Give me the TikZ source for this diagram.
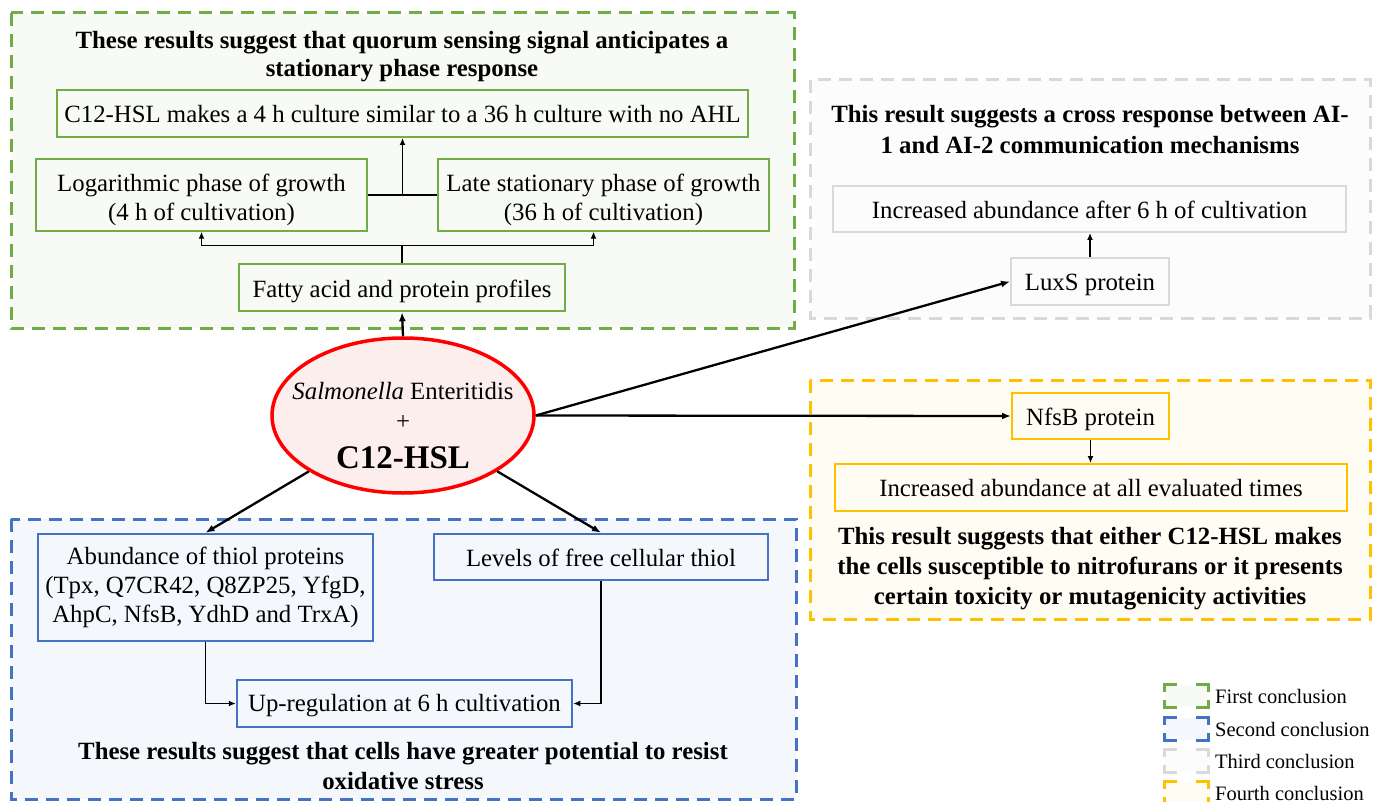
\documentclass[tikz,border=0pt]{standalone}
\usepackage{fontspec}
\setmainfont{Liberation Serif}
\usetikzlibrary{shapes.geometric,arrows.meta,calc}
\definecolor{grn}{HTML}{70AD47}
\definecolor{grnfill}{HTML}{F8FAF5}
\definecolor{blu}{HTML}{4472C4}
\definecolor{blufill}{HTML}{F4F7FC}
\definecolor{gry}{HTML}{D9D9D9}
\definecolor{gryfill}{HTML}{FCFCFC}
\definecolor{yel}{HTML}{FFC000}
\definecolor{yelfill}{HTML}{FFFDF3}
\definecolor{redl}{HTML}{FF0000}
\definecolor{pinkfill}{HTML}{FDEEEE}
\newcommand{\lowertxt}[2][2.5pt]{\raisebox{-#1}[\height][\depth]{#2}}
\begin{document}
\begin{tikzpicture}[x=1pt,y=-1pt,
 txt/.style={font=\fontsize{24.8}{29}\selectfont, align=center, inner sep=0pt},
 ttl/.style={font=\bfseries\fontsize{24.8}{29}\selectfont, align=center, inner sep=0pt},
 region/.style={line width=3pt, dash pattern=on 13pt off 8pt},
 ibox/.style={txt, draw, line width=2pt},
 thin/.style={line width=1.3pt, -{Latex[length=7pt,width=6pt]}},
 thick/.style={line width=2.3pt, -{Latex[length=9pt,width=7pt]}},
 legbox/.style={minimum width=43pt, minimum height=22pt, inner sep=0pt},
 legtxt/.style={font=\fontsize{20.5}{23}\selectfont, anchor=base west, inner sep=0pt},
 bracket/.style={line width=3pt},
]
\useasboundingbox[fill=white] (0,0) rectangle (1383,802);
% regions
\path[region, draw=grn, fill=grnfill] (11,13) rectangle (794,328);
\path[region, draw=gry, fill=gryfill] (810,80) rectangle (1370,318);
\path[region, draw=yel, fill=yelfill] (810,380) rectangle (1370,619);
\path[region, draw=blu, fill=blufill] (11,519) rectangle (796,799);

% first conclusion
\node[ttl, font=\bfseries\fontsize{24.8}{28}\selectfont] (t1) at (402,57) {These results suggest that quorum sensing signal anticipates a\\stationary phase response};
\node[ibox, draw=grn, minimum width=691pt, minimum height=47pt] (c12) at (402.5,113.5) {\lowertxt[1pt]{C12-HSL makes a 4 h culture similar to a 36 h culture with no AHL}};
\node[ibox, draw=grn, line width=1.5pt, minimum width=331pt, minimum height=72pt] (log) at (201.5,195) {\lowertxt[4.5pt]{Logarithmic phase of growth}\\\lowertxt[4.5pt]{(4 h of cultivation)}};
\node[ibox, draw=grn, line width=1.5pt, minimum width=331pt, minimum height=72pt] (late) at (603.5,195) {\lowertxt[4.5pt]{Late stationary phase of growth}\\\lowertxt[4.5pt]{(36 h of cultivation)}};
\node[ibox, draw=grn, line width=2.5pt, minimum width=326pt, minimum height=47pt] (fatty) at (402,287.5) {\lowertxt[4pt]{Fatty acid and protein profiles}};

% central ellipse
\node[ellipse, draw=redl, line width=3.5pt, fill=pinkfill, minimum width=262pt, minimum height=155pt, inner sep=0pt] (e) at (403,415.5) {};
\node[txt, anchor=base] (e1) at (403,399) {\textit{Salmonella} Enteritidis};
\node[txt, anchor=base] (e2) at (403,429) {+};
\node[font=\bfseries\fontsize{33}{36}\selectfont, anchor=base, inner sep=0pt] (e3) at (403,468) {C12-HSL};

% third conclusion
\node[ttl, font=\bfseries\fontsize{24.8}{31}\selectfont] (t3) at (1090,130) {This result suggests a cross response between AI-\\1 and AI-2 communication mechanisms};
\node[ibox, draw=gry, minimum width=513pt, minimum height=46pt] (inc6) at (1089.5,209) {\lowertxt[1pt]{Increased abundance after 6 h of cultivation}};
\node[ibox, draw=gry, minimum width=158pt, minimum height=47pt] (luxs) at (1090,281.5) {\lowertxt[3pt]{LuxS protein}};

% fourth conclusion
\node[ibox, draw=yel, minimum width=157pt, minimum height=46pt] (nfsb) at (1090.5,416) {\lowertxt[3pt]{NfsB protein}};
\node[ibox, draw=yel, minimum width=512pt, minimum height=47pt] (incall) at (1091,487.5) {\lowertxt[1pt]{Increased abundance at all evaluated times}};
\node[ttl, font=\bfseries\fontsize{24.8}{30}\selectfont] (t4) at (1090,568.5) {This result suggests that either C12-HSL makes\\the cells susceptible to nitrofurans or it presents\\certain toxicity or mutagenicity activities};

% second conclusion
\node[ibox, draw=blu, line width=2.5pt, minimum width=335pt, minimum height=107pt] (thiol) at (205.5,587.5) {Abundance of thiol proteins\\(Tpx, Q7CR42, Q8ZP25, YfgD,\\AhpC, NfsB, YdhD and TrxA)};
\node[ibox, draw=blu, line width=2.5pt, minimum width=334pt, minimum height=46pt] (levels) at (601,557) {\lowertxt[1pt]{Levels of free cellular thiol}};
\node[ibox, draw=blu, line width=2.5pt, minimum width=335pt, minimum height=47pt] (upreg) at (404.5,703.5) {\lowertxt[2pt]{Up-regulation at 6 h cultivation}};
\node[ttl, font=\bfseries\fontsize{24.8}{30}\selectfont] (t2) at (403,766) {These results suggest that cells have greater potential to resist\\oxidative stress};

% connectors
\draw[line width=1.3pt] (log.east) -- (late.west);
\coordinate (m1) at ($(log.east)!0.5!(late.west)$);
\draw[thin] (m1) -- (m1 |- c12.south);
\draw[line width=1.3pt] (fatty.north) -- ++(0,-17) coordinate (fj);
\draw[thin] (fj) -| (log.south);
\draw[thin] (fj) -| ([xshift=-10pt]late.south);
\draw[thick] (e.north) -- (fatty.south);
\draw[thick] (e.east) -- (luxs.west);
\draw[thick] (e.east) -- (nfsb.west);
\draw[thick] (e) -- (thiol.north);
\draw[thick] (e) -- (levels.north);
\draw[thin] (luxs.north) -- (luxs.north |- inc6.south);
\draw[thin] (nfsb.south) -- (nfsb.south |- incall.north);
\draw[thin] (thiol.south) |- (upreg.west);
\draw[thin] (levels.south) |- (upreg.east);

% legend
\foreach \i/\y/\c/\f/\t in {1/696/grn/grnfill/First conclusion, 2/729/blu/blufill/Second conclusion, 3/761/gry/gryfill/Third conclusion, 4/793/yel/yelfill/Fourth conclusion}{
  \node[legbox, fill=\f] (leg\i) at (1186.5,\y) {};
  \draw[bracket, draw=\c] ([xshift=12pt]leg\i.north west) -- (leg\i.north west) -- ([yshift=-7pt]leg\i.north west);
  \draw[bracket, draw=\c] ([yshift=7pt]leg\i.south west) -- (leg\i.south west) -- ([xshift=12pt]leg\i.south west);
  \draw[bracket, draw=\c] ([xshift=-12pt]leg\i.north east) -- (leg\i.north east) -- ([yshift=-7pt]leg\i.north east);
  \draw[bracket, draw=\c] ([yshift=7pt]leg\i.south east) -- (leg\i.south east) -- ([xshift=-12pt]leg\i.south east);
  \node[legtxt] (lt\i) at (1215,\y+7) {\t};
}
\end{tikzpicture}
\end{document}
